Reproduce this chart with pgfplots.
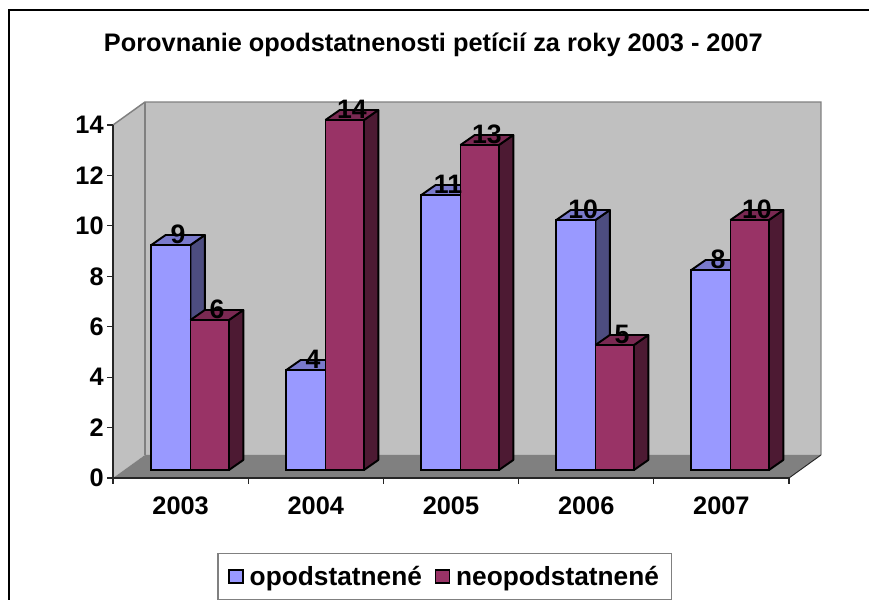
\documentclass[border=0pt]{standalone}
\usepackage{pgfplots}
\pgfplotsset{compat=1.18}
\usepackage{fontspec}
\setmainfont{Liberation Sans}
\definecolor{wall}{HTML}{C0C0C0}
\definecolor{floorc}{HTML}{808080}
\definecolor{blueF}{HTML}{9999FF}
\definecolor{blueT}{HTML}{7A7ACC}
\definecolor{blueS}{HTML}{4D4D80}
\definecolor{redF}{HTML}{993366}
\definecolor{redT}{HTML}{7A2952}
\definecolor{redS}{HTML}{4D1A33}
% year, value, bar shift, bar width, front, top, side
\newcommand{\threedbar}[7]{%
  \pgfmathsetmacro{\xa}{#1+#3-#4/2}%
  \pgfmathsetmacro{\xb}{#1+#3+#4/2}%
  \pgfmathsetmacro{\xc}{\xb+0.106}%
  \pgfmathsetmacro{\xd}{\xa+0.106}%
  \pgfmathsetmacro{\yt}{#2+0.4}%
  \addplot[fill=#7,draw=black,line width=1.45pt,line join=round] coordinates {(\xb,0) (\xc,0.4) (\xc,\yt) (\xb,#2) (\xb,0)};
  \addplot[fill=#6,draw=black,line width=1.45pt,line join=round] coordinates {(\xa,#2) (\xd,\yt) (\xc,\yt) (\xb,#2) (\xa,#2)};
  \addplot[ybar,bar width=#4,bar shift=#3,fill=#5,draw=black,line width=1.45pt] coordinates {(#1,#2)};
}
\newcommand{\bluebar}[2]{\threedbar{#1}{#2}{-0.145}{0.29}{blueF}{blueT}{blueS}}
\newcommand{\redbar}[2]{\threedbar{#1}{#2}{0.1425}{0.285}{redF}{redT}{redS}}
\begin{document}
\begin{tikzpicture}
\path[use as bounding box] (0,0) rectangle (651.75pt,450pt);
\draw[line width=1.9pt,black] (6.9pt,0) -- (6.9pt,442.6pt) -- (651.75pt,442.6pt);
% frame, walls, ticks, title and legend
\begin{axis}[
  at={(84.75pt,91.5pt)},anchor=south west,
  scale only axis,width=507pt,height=264.75pt,
  xmin=2002.5,xmax=2007.5,ymin=0,ymax=14,
  clip=false,axis on top,
  axis x line*=bottom,axis y line*=left,
  axis line style={-,line width=1pt,draw=black!85},
  xtick={2003,2004,2005,2006,2007},
  xticklabels={2003,2004,2005,2006,2007},
  minor xtick={2002.5,2003.5,2004.5,2005.5,2006.5,2007.5},
  major x tick style={draw=none},
  minor x tick style={draw=black!85,line width=0.8pt},
  minor tick length=4.5pt,
  ytick={0,2,4,6,8,10,12,14},
  major y tick style={draw=black!85,line width=0.8pt},
  major tick length=4.5pt,
  tick align=outside,
  /pgf/number format/assume math mode=true,
  /pgf/number format/1000 sep={},
  tick label style={font=\fontsize{19}{19}\selectfont\bfseries,text=black},
  xticklabel style={yshift=-6pt},
  yticklabel style={xshift=1pt},
  title={Porovnanie opodstatnenosti petícií za roky 2003 - 2007},
  title style={at={(0.474,1.204)},anchor=center,font=\fontsize{19}{19}\selectfont\bfseries},
  legend columns=2,
  legend style={at={(0.491,-0.279)},anchor=center,draw=gray,line width=1pt,
    font=\fontsize{19.7}{19.7}\selectfont\bfseries,inner xsep=7.6pt,inner ysep=7.4pt,
    /tikz/every even column/.style={column sep=7.5pt}},
]
\addplot[forget plot,fill=wall,draw=none] coordinates {(2002.5,0) (2002.7367,0.9127) (2002.7367,14.9127) (2002.5,14)};
\addplot[forget plot,fill=wall,draw=none] coordinates {(2002.7367,0.9127) (2007.7367,0.9127) (2007.7367,14.9127) (2002.7367,14.9127)};
\addplot[forget plot,fill=floorc,draw=none] coordinates {(2002.5,0) (2007.5,0) (2007.7367,0.9127) (2002.7367,0.9127)};
\addplot[forget plot,draw=floorc,line width=1.1pt] coordinates {(2002.5,14) (2002.7367,14.9127) (2007.7367,14.9127) (2007.7367,0.9127)};
\addplot[forget plot,draw=floorc,line width=1.1pt] coordinates {(2002.7367,14.9127) (2002.7367,0.9127)};
\addplot[forget plot,draw=black!85,line width=0.7pt] coordinates {(2007.5,0) (2007.7367,0.9127)};
\addlegendimage{legend image code/.code={\draw[fill=blueF,draw=black,line width=1.1pt] (0pt,-5pt) rectangle (10.5pt,5pt); \path (13.1pt,0pt);}}
\addlegendentry{opodstatnené}
\addlegendimage{legend image code/.code={\draw[fill=redF,draw=black,line width=1.1pt] (0pt,-5pt) rectangle (10.5pt,5pt); \path (13.1pt,0pt);}}
\addlegendentry{neopodstatnené}
\end{axis}
% bars
\begin{axis}[
  at={(92.25pt,97.5pt)},anchor=south west,
  scale only axis,width=506.25pt,height=262.5pt,
  xmin=2002.5,xmax=2007.5,ymin=0,ymax=14,
  clip=false,hide axis,
  /pgf/number format/assume math mode=true,
]
\bluebar{2003}{9}\redbar{2003}{6}
\bluebar{2004}{4}\redbar{2004}{14}
\bluebar{2005}{11}\redbar{2005}{13}
\bluebar{2006}{10}\redbar{2006}{5}
\bluebar{2007}{8}\redbar{2007}{10}
\addplot[draw=none,mark=none,
  nodes near coords,
  every node near coord/.style={anchor=center,yshift=7.9pt,text=black,
    font=\fontsize{20}{20}\selectfont\bfseries}]
  table[x=x,y=y] {
x y
2002.908 9
2004.908 11
2003.908 4
2005.908 10
2006.908 8
2003.196 6
2004.196 14
2005.196 13
2006.196 5
2007.196 10
};
\end{axis}
\end{tikzpicture}
\end{document}
